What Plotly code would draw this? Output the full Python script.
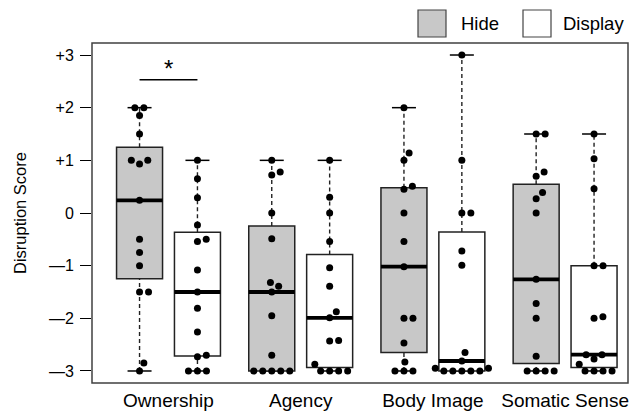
import math
import plotly.graph_objects as go

# ---------------- data ----------------
categories = ["Ownership", "Agency", "Body Image", "Somatic Sense"]
conditions = ["Hide", "Display"]

ownership_hide = [2.0, 2.0, 1.85, 1.5, 1.0, 1.0, 0.93, 0.24, -0.5, -0.75, -1.0, -1.5, -1.5, -2.85, -3.0]
ownership_display = [1.0, 0.65, 0.29, -0.23, -0.5, -0.54, -1.08, -1.5, -1.81, -2.26, -2.7, -2.73, -3.0, -3.0, -3.0]
agency_hide = [1.0, 0.78, 0.72, 0.0, -0.49, -1.32, -1.39, -1.5, -1.95, -2.7, -3.0, -3.0, -3.0, -3.0, -3.0]
agency_display = [1.0, 0.3, 0.0, -0.54, -1.04, -1.39, -1.875, -1.99, -2.42, -2.43, -2.87, -3.0, -3.0, -3.0, -3.0]
body_hide = [2.0, 1.14, 1.0, 0.51, 0.45, 0.0, -0.54, -1.02, -2.0, -2.0, -2.47, -2.83, -3.0, -3.0, -3.0]
body_display = [3.0, 1.0, 0.0, 0.0, -0.72, -0.99, -2.65, -2.81, -2.95, -2.95, -3.0, -3.0, -3.0, -3.0, -3.0]
somatic_hide = [1.5, 1.5, 0.78, 0.7, 0.39, 0.27, 0.0, -1.26, -1.72, -2.0, -2.72, -3.0, -3.0, -3.0, -3.0]
somatic_display = [1.5, 1.03, 0.46, -1.0, -1.0, -1.97, -2.0, -2.69, -2.69, -2.77, -2.87, -3.0, -3.0, -3.0, -3.0]

hide_series = [ownership_hide, agency_hide, body_hide, somatic_hide]
display_series = [ownership_display, agency_display, body_display, somatic_display]

y_tickvals = [-3, -2, -1, 0, 1, 2, 3]
y_ticktext = ["\u20143", "\u20142", "\u20141", "0", "+1", "+2", "+3"]
significance_label = "*"

# ---------------- geometry / style ----------------
W, H = 632, 413
ML, MR, MT, MB = 92, 4, 43, 30
PW, PH = W - ML - MR, H - MT - MB
XR = [-0.5787, 3.4758]
YR = [-3.228, 3.228]
PPU_X = PW / (XR[1] - XR[0])
PPU_Y = PH / (YR[1] - YR[0])
PAIR_OFF = 0.219
BOX_HALF = 23 / PPU_X
CAP_HALF = 12 / PPU_X
SWARM_D = 9.0  # px between point centres
HIDE_FILL = "#C8C8C8"
FONT = "Liberation Sans, Arial, sans-serif"


def fivenum(v):
    x = sorted(v)
    n = len(x)
    n4 = math.floor((n + 3) / 2) / 2
    d = [1, n4, (n + 1) / 2, n + 1 - n4, n]
    return [0.5 * (x[math.floor(di) - 1] + x[math.ceil(di) - 1]) for di in d]


def box_stats(v):
    _, q1, med, q3, _ = fivenum(v)
    iqr = q3 - q1
    lo = min(a for a in v if a >= q1 - 1.5 * iqr)
    hi = max(a for a in v if a <= q3 + 1.5 * iqr)
    return q1, med, q3, lo, hi


def swarm(vals):
    order = sorted(range(len(vals)), key=lambda i: vals[i])
    placed = []
    offs = [0.0] * len(vals)
    d2 = SWARM_D ** 2
    for i in order:
        y = vals[i] * PPU_Y
        cands = [0.0]
        for px, py in placed:
            dy = abs(py - y)
            if dy < SWARM_D:
                dx = math.sqrt(d2 - dy * dy)
                cands += [px + dx, px - dx]
        cands.sort(key=lambda c: (round(abs(c), 6), -c))
        for c in cands:
            if all((c - px) ** 2 + (y - py) ** 2 >= d2 - 1e-6 for px, py in placed):
                offs[i] = c
                placed.append((c, y))
                break
    return [o / PPU_X for o in offs]


fig = go.Figure()
shapes = []

for k in range(len(categories)):
    for vals, pos, fill in ((hide_series[k], k - PAIR_OFF, HIDE_FILL),
                            (display_series[k], k + PAIR_OFF, "white")):
        q1, med, q3, lo, hi = box_stats(vals)
        # whiskers (dashed)
        for a, b in ((q3, hi), (lo, q1)):
            shapes.append(dict(type="line", xref="x", yref="y", x0=pos, x1=pos, y0=a, y1=b,
                               line=dict(color="#222", width=1.4, dash="4px,3px"), layer="below"))
        # caps
        for c in (lo, hi):
            shapes.append(dict(type="line", xref="x", yref="y", x0=pos - CAP_HALF, x1=pos + CAP_HALF,
                               y0=c, y1=c, line=dict(color="black", width=1.5), layer="below"))
        # box
        shapes.append(dict(type="rect", xref="x", yref="y", x0=pos - BOX_HALF, x1=pos + BOX_HALF,
                           y0=q1, y1=q3, fillcolor=fill, line=dict(color="#222", width=1.5),
                           layer="below"))
        # median
        shapes.append(dict(type="line", xref="x", yref="y", x0=pos - BOX_HALF, x1=pos + BOX_HALF,
                           y0=med, y1=med, line=dict(color="black", width=3.8), layer="below"))
        offs = swarm(vals)
        fig.add_trace(go.Scatter(
            x=[pos + o for o in offs], y=vals, mode="markers",
            marker=dict(color="black", size=7, line=dict(width=0)),
            showlegend=False, hoverinfo="y"))

# significance bracket
sig_y = 2.53
shapes.append(dict(type="line", xref="x", yref="y", x0=-PAIR_OFF, x1=PAIR_OFF, y0=sig_y, y1=sig_y,
                   line=dict(color="black", width=1.6)))

# frame
shapes.append(dict(type="rect", xref="paper", yref="paper", x0=0, x1=1, y0=0, y1=1,
                   line=dict(color="#404040", width=1.5), layer="above"))


def px2paper_x(p):
    return (p - ML) / PW


def px2paper_y(p):
    return (H - MB - p) / PH


leg_items = [(conditions[0], HIDE_FILL, 418, 459), (conditions[1], "white", 523, 561)]
annotations = []
for name, fill, bx, tx in leg_items:
    shapes.append(dict(type="rect", xref="paper", yref="paper",
                       x0=px2paper_x(bx), x1=px2paper_x(bx + 28),
                       y0=px2paper_y(37), y1=px2paper_y(10),
                       fillcolor=fill, line=dict(color="#444", width=1.2)))
    annotations.append(dict(xref="paper", yref="paper", x=px2paper_x(tx), y=px2paper_y(24),
                            xanchor="left", yanchor="middle", text=name, showarrow=False,
                            font=dict(size=18.5, color="black", family=FONT)))

annotations.append(dict(xref="x", yref="y", x=0, y=2.75, text=significance_label, showarrow=False,
                        xanchor="center", yanchor="middle",
                        font=dict(size=24, color="black", family=FONT)))
annotations.append(dict(xref="paper", yref="paper", x=px2paper_x(20), y=0.5, text="Disruption Score",
                        textangle=-90, showarrow=False, xanchor="center", yanchor="middle",
                        font=dict(size=16.5, color="black", family=FONT)))

fig.update_layout(
    width=W, height=H,
    margin=dict(l=ML, r=MR, t=MT, b=MB, pad=0, autoexpand=False),
    paper_bgcolor="white", plot_bgcolor="white",
    font=dict(family=FONT, color="black"),
    shapes=shapes, annotations=annotations,
    xaxis=dict(range=XR, tickvals=list(range(len(categories))), ticktext=categories,
               ticks="", showgrid=False, zeroline=False, showline=False, automargin=False,
               ticklabelstandoff=4,
               tickfont=dict(size=19, family=FONT, color="black")),
    yaxis=dict(range=YR, tickvals=y_tickvals, ticktext=y_ticktext,
               ticks="outside", ticklen=11, tickwidth=1.2, tickcolor="black",
               showgrid=False, zeroline=False, showline=False, automargin=False,
               ticklabelstandoff=3,
               tickfont=dict(size=16, family=FONT, color="black")),
)

fig.write_html("out.html", config={"displayModeBar": False},
               post_script="document.body.style.margin='0px';document.body.style.overflow='hidden';")
